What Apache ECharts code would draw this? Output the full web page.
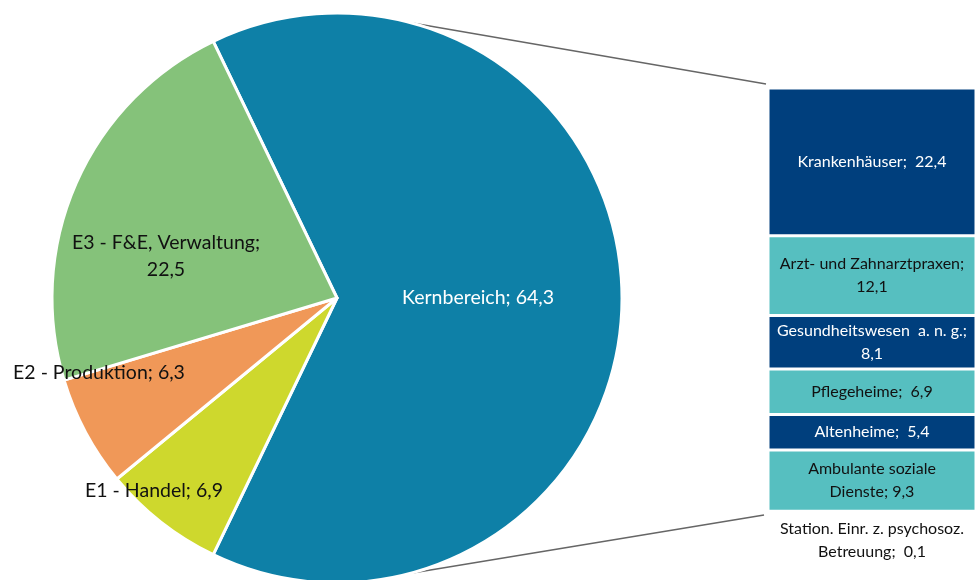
<!DOCTYPE html>
<html>
<head>
<meta charset="utf-8">
<script src="https://cdn.jsdelivr.net/npm/echarts@6/dist/echarts.min.js"></script>
<style>
  html, body { margin: 0; padding: 0; background: #fff; }
  #main { width: 976px; height: 580px; }
</style>
</head>
<body>
<div id="main"></div>
<script>
// pie: main areas
const pieNames = ['Kernbereich', 'E1 - Handel', 'E2 - Produktion', 'E3 - F&E, Verwaltung'];
const pieValues = [64.3, 6.9, 6.3, 22.5];
// bar: breakdown of Kernbereich
const barNames = ['Krankenhäuser', 'Arzt- und Zahnarztpraxen', 'Gesundheitswesen  a. n. g.', 'Pflegeheime', 'Altenheime', 'Ambulante soziale\nDienste', 'Station. Einr. z. psychosoz.\nBetreuung'];
const barValues = [22.4, 12.1, 8.1, 6.9, 5.4, 9.3, 0.1];
const barSep = [';  ', ';\n', ';\n', ';  ', ';  ', '; ', ';  '];

const pieColors = ['#0E80A7', '#CED82D', '#F09858', '#85C27A'];
const navy = '#003F7D', teal = '#56BFC0';
const FONT = 'Lato';

const cx = 337, cy = 298, R = 285;
// label centres (layout only)
const pieLabelPos = [[478, 298], [154, 491], [99, 373], [166, 256]];

function fmt(v) { return v.toFixed(1).replace('.', ','); }

let myChart = echarts.init(document.getElementById('main'));
let total = barValues.reduce((a, b) => a + b, 0);
let kernAngle = pieValues[0] / pieValues.reduce((a, b) => a + b, 0) * 360;

let barSeries = barValues.map((v, i) => {
  let dark = i % 2 == 0;
  let last = i == barValues.length - 1;
  return {
    type: 'bar',
    stack: 'k',
    name: barNames[i],
    barWidth: '100%',
    data: [v],
    itemStyle: { color: dark ? navy : teal, borderColor: '#fff', borderWidth: 1.5 },
    label: {
      show: true,
      position: last ? 'bottom' : 'inside',
      distance: 5,
      formatter: () => barNames[i] + barSep[i] + fmt(v),
      color: last ? '#111' : (dark ? '#fff' : '#111'),
      fontFamily: FONT,
      fontSize: 16,
      lineHeight: 23,
      align: 'center'
    },
    emphasis: { disabled: true },
    silent: true
  };
});

let option = {
  animation: false,
  grid: { left: 768, top: 88, width: 210, height: 424 },
  xAxis: { type: 'category', data: ['Kernbereich'], show: false },
  yAxis: { type: 'value', min: 0, max: total, inverse: true, show: false },
  series: [
    {
      type: 'pie',
      center: [cx, cy],
      radius: R,
      startAngle: kernAngle / 2,
      clockwise: true,
      data: pieNames.map((n, i) => ({ name: n, value: pieValues[i], itemStyle: { color: pieColors[i] } })),
      itemStyle: { borderColor: '#fff', borderWidth: 3 },
      label: {
        show: true,
        position: 'inside',
        formatter: p => p.dataIndex == 3 ? p.name + ';\n' + fmt(p.value) : p.name + '; ' + fmt(p.value),
        color: '#111',
        fontFamily: FONT,
        fontSize: 19.5,
        lineHeight: 27
      },
      labelLine: { show: false },
      labelLayout: p => ({ x: pieLabelPos[p.dataIndex][0], y: pieLabelPos[p.dataIndex][1], align: 'center', verticalAlign: 'middle' }),
      emphasis: { disabled: true },
      silent: true
    }
  ].concat(barSeries)
};
option.series[0].data[0].label = { color: '#fff' };
myChart.setOption(option);

// connector lines from pie edge to the bar
let yTop = myChart.convertToPixel({ yAxisIndex: 0 }, 0);
let yBot = myChart.convertToPixel({ yAxisIndex: 0 }, total);
let a = 15 * Math.PI / 180;
let barLeft = 768;
myChart.setOption({
  graphic: [
    { type: 'line', shape: { x1: cx + R * Math.sin(a), y1: cy - R * Math.cos(a), x2: barLeft - 2, y2: yTop - 4 }, style: { stroke: '#666', lineWidth: 1.5 } },
    { type: 'line', shape: { x1: cx + R * Math.sin(a), y1: cy + R * Math.cos(a), x2: barLeft - 4, y2: yBot + 3 }, style: { stroke: '#666', lineWidth: 1.5 } }
  ]
});
</script>
</body>
</html>
